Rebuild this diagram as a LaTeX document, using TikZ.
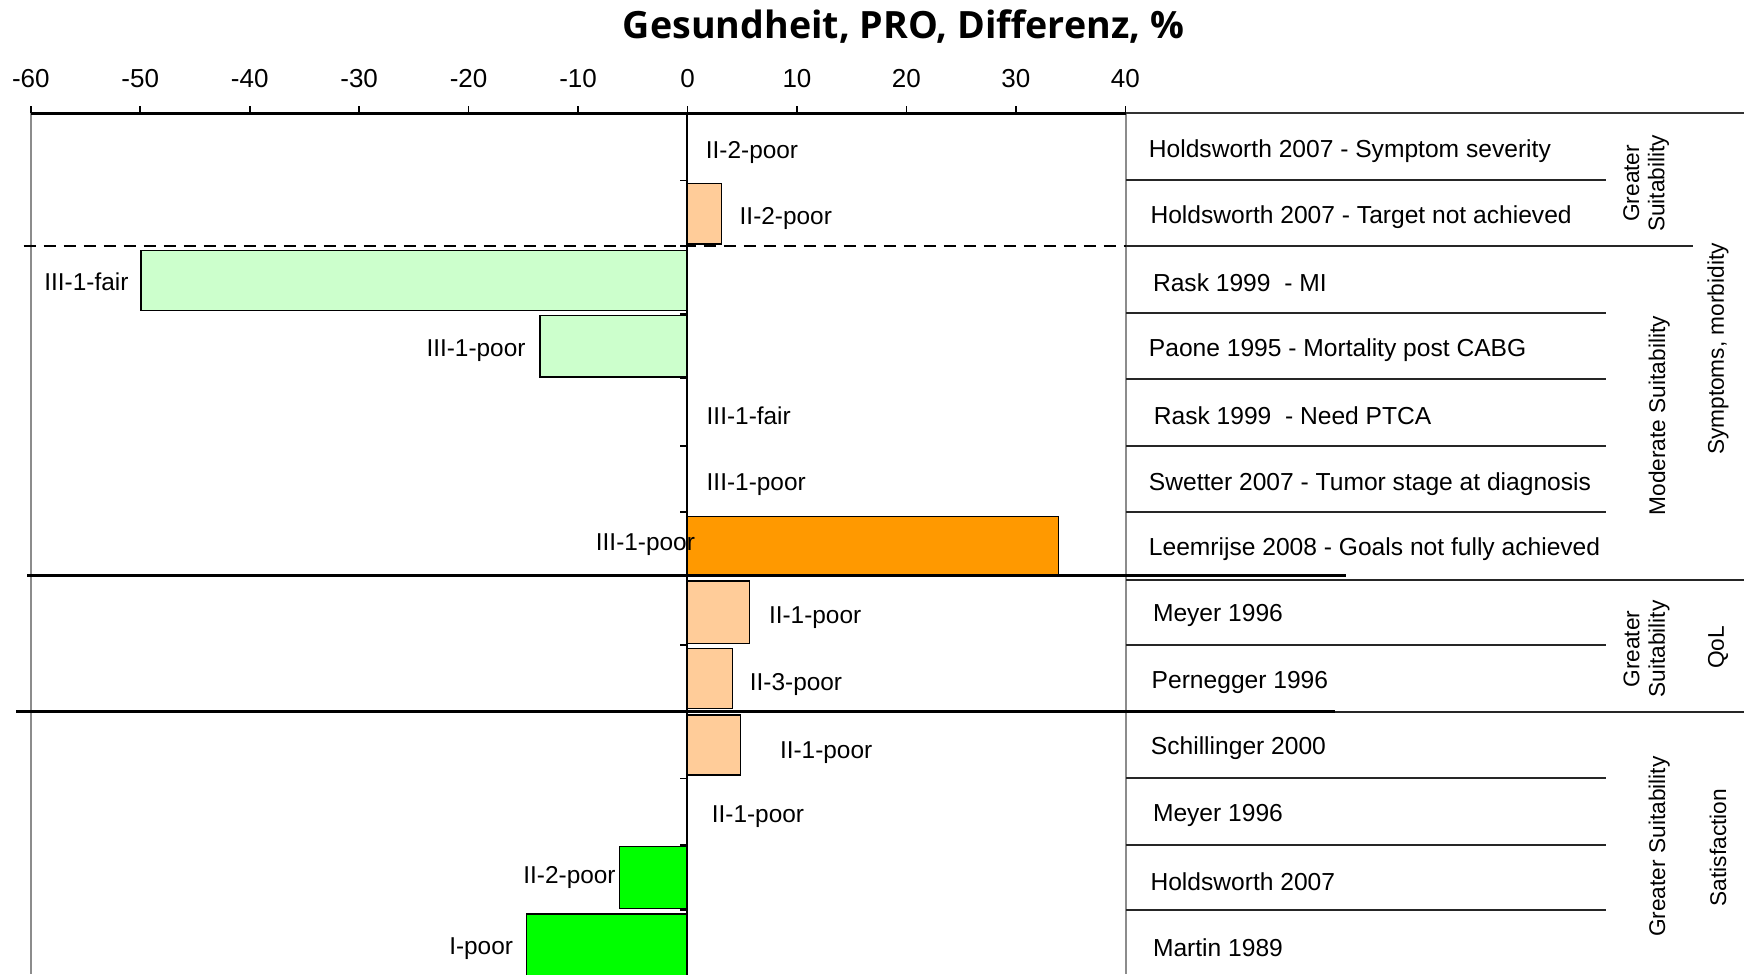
\documentclass[tikz,border=0pt]{standalone}
\usepackage{fontspec}
\setmainfont{Liberation Sans}
\newfontfamily\titlefont{Open Sans}
\begin{document}
\begin{tikzpicture}[x=0.5pt,y=-0.5pt,
  lbl/.style={inner sep=0pt,yshift=-1.2pt,font=\fontsize{12.2pt}{14pt}\selectfont},
  tbl/.style={inner sep=0pt,anchor=west,yshift=-1.1pt,font=\fontsize{12.3pt}{14pt}\selectfont},
  tk/.style={inner sep=0pt,font=\fontsize{13pt}{15pt}\selectfont},
  vlab/.style={inner sep=0pt,rotate=90,align=center,font=\fontsize{11.35pt}{12.7pt}\selectfont},
  bar/.style={draw=black,line width=0.75pt},
  rowline/.style={draw=black!85,line width=0.9pt},
  greyline/.style={draw=black!45,line width=0.8pt},
  sepline/.style={draw=black,line width=1.4pt}]
\definecolor{peach}{HTML}{FFCC99}
\definecolor{palegreen}{HTML}{CCFFCC}
\definecolor{deeporange}{HTML}{FF9900}
\definecolor{brightgreen}{HTML}{00FF00}
\useasboundingbox (0,0) rectangle (1744,974);
\fill[white] (0,0) rectangle (1744,974);

% title
\node[inner sep=0pt,anchor=base,font=\titlefont\bfseries\fontsize{18.8pt}{20pt}\selectfont] (title) at (903.5,39) {Gesundheit, PRO, Differenz, \%};

% grey verticals
\draw[greyline] (30.8,113.4) -- (30.8,974);
\draw[greyline] (1125.8,113.4) -- (1125.8,974);

% bars
\draw[bar,fill=peach] (687.2,183.3) rectangle (721.7,244);
\draw[bar,fill=palegreen] (140.8,250.4) rectangle (687.2,310.7);
\draw[bar,fill=palegreen] (539.8,315.5) rectangle (687.2,377.1);
\draw[bar,fill=deeporange] (687.2,516.3) rectangle (1058.3,575.8);
\draw[bar,fill=peach] (687.2,581) rectangle (749.5,643.3);
\draw[bar,fill=peach] (687.2,648.3) rectangle (732.7,708.3);
\draw[bar,fill=peach] (687.2,715) rectangle (740.7,775);
\draw[bar,fill=brightgreen] (619.7,846.7) rectangle (687.2,908.3);
\draw[bar,fill=brightgreen] (526.6,914) rectangle (687.2,976);

% zero line and its ticks
\draw[black,line width=0.8pt] (687.2,113.4) -- (687.2,974);
\foreach \yy in {180.5,246,313.8,378.5,445.7,512.1,575.8,645,711.7,778.3,845,910}
  \draw[black,line width=0.8pt] (680,\yy) -- (687.2,\yy);

% top axis
\draw[black,line width=1.5pt] (30.8,113.4) -- (1125.8,113.4);
\draw[black!80,line width=1pt] (1125.8,113.4) -- (1744,113.4);
\foreach \k/\t in {0/-60,1/-50,2/-40,3/-30,4/-20,5/-10,6/0,7/10,8/20,9/30,10/40}{
  \draw[black,line width=0.8pt] ({30.8+109.45*\k},106.5) -- ({30.8+109.45*\k},113.4);
  \node[tk] (tick\k) at ({30.8+109.45*\k},79) {\t};
}

% section separators
\draw[black,line width=0.9pt,dash pattern=on 6pt off 4pt] (23.5,245.7) -- (1341,245.7);
\draw[sepline] (27,575.8) -- (1345.6,575.8);
\draw[sepline] (16,711.7) -- (1335,711.7);

% table lines
\foreach \yy in {180.3,313.3,379,445.7,512.3,645,778.3,845,910}
  \draw[rowline] (1126,\yy) -- (1606,\yy);
\draw[rowline] (1126,245.7) -- (1693,245.7);
\draw[rowline] (1126,580) -- (1744,580);
\draw[rowline] (1335,711.7) -- (1744,711.7);

% bar labels
\node[lbl,anchor=west] (l0) at (705.5,150) {II-2-poor};
\node[lbl,anchor=west] (l1) at (739.3,216) {II-2-poor};
\node[lbl,anchor=west] (l2) at (44,279.5) {III-1-fair};
\node[lbl,anchor=east] (l3) at (525.9,348.6) {III-1-poor};
\node[lbl,anchor=west] (l4) at (706.3,413.2) {III-1-fair};
\node[lbl,anchor=west] (l5) at (706.3,481.8) {III-1-poor};
\node[lbl,anchor=east] (l6) at (695.3,542) {III-1-poor};
\node[lbl,anchor=west] (l7) at (768.6,615) {II-1-poor};
\node[lbl,anchor=west] (l8) at (749.5,682.3) {II-3-poor};
\node[lbl,anchor=west] (l9) at (779.6,750) {II-1-poor};
\node[lbl,anchor=west] (l10) at (711.4,814.3) {II-1-poor};
\node[lbl,anchor=east] (l11) at (616,875) {II-2-poor};
\node[lbl,anchor=east] (l12) at (513.4,946.7) {I-poor};

% table texts
\node[tbl] (s0) at (1148.5,149.3) {Holdsworth 2007 - Symptom severity};
\node[tbl] (s1) at (1150.1,215) {Holdsworth 2007 - Target not achieved};
\node[tbl] (s2) at (1152.6,280.5) {Rask 1999~~- MI};
\node[tbl] (s3) at (1148.5,348.3) {Paone 1995 - Mortality post CABG};
\node[tbl] (s4) at (1153.4,414) {Rask 1999~~- Need PTCA};
\node[tbl] (s5) at (1148.5,481.7) {Swetter 2007 - Tumor stage at diagnosis};
\node[tbl] (s6) at (1148.5,547.3) {Leemrijse 2008 - Goals not fully achieved};
\node[tbl] (s7) at (1152.6,613.3) {Meyer 1996};
\node[tbl] (s8) at (1151.3,680) {Pernegger 1996};
\node[tbl] (s9) at (1150.5,746) {Schillinger 2000};
\node[tbl] (s10) at (1152.6,813.3) {Meyer 1996};
\node[tbl] (s11) at (1150.1,879) {Holdsworth 2007};
\node[tbl] (s12) at (1152.6,945.5) {Martin 1989};

% vertical group labels
\node[vlab] (g1) at (1646.2,183.3) {Greater\\Suitability};
\node[vlab] (c1) at (1718,349) {Symptoms, morbidity};
\node[vlab] (g2) at (1659.3,415.8) {Moderate Suitability};
\node[vlab] (g3) at (1646.6,649) {Greater\\Suitability};
\node[vlab] (c2) at (1718,647.5) {QoL};
\node[vlab] (g4) at (1659.3,846.7) {Greater Suitability};
\node[vlab] (c3) at (1718,847.5) {Satisfaction};
\end{tikzpicture}
\end{document}
